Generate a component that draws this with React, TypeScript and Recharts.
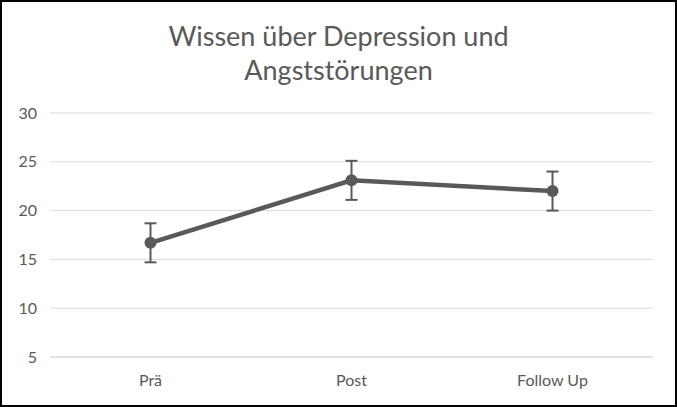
import { LineChart, Line, XAxis, YAxis, CartesianGrid, ErrorBar } from "recharts";

const categories = ["Prä", "Post", "Follow Up"];
const means = [16.7, 23.1, 22.0];
const errors = [2.0, 2.0, 2.0];
const yTicks = [5, 10, 15, 20, 25, 30];

const data = categories.map((c, i) => ({ name: c, value: means[i], err: errors[i] }));

const grey = "#595959";
const font = "Lato, 'Open Sans', sans-serif";

export default function App() {
  return (
    <div style={{ position: "absolute", left: 0, top: 0, width: 677, height: 407, background: "#fff" }}>
      <div
        style={{
          position: "absolute",
          left: 0,
          top: 19,
          width: 677,
          textAlign: "center",
          fontFamily: font,
          fontSize: 27,
          lineHeight: "34px",
          color: grey,
        }}
      >
        Wissen über Depression und
        <br />
        Angststörungen
      </div>
      <LineChart
        width={677}
        height={407}
        data={data}
        margin={{ top: 113, right: 24, left: 0, bottom: 0 }}
      >
        <CartesianGrid vertical={false} stroke="#d9d9d9" strokeWidth={1} />
        <XAxis
          dataKey="name"
          scale="band"
          axisLine={{ stroke: "#d9d9d9" }}
          tickLine={false}
          height={50}
          tickMargin={12}
          tick={{ fill: grey, fontSize: 16, fontFamily: font }}
        />
        <YAxis
          domain={[5, 30]}
          ticks={yTicks}
          axisLine={false}
          tickLine={false}
          width={50}
          tickMargin={7}
          tick={{ fill: grey, fontSize: 16, fontFamily: font }}
        />
        <Line
          dataKey="value"
          stroke={grey}
          strokeWidth={4.5}
          dot={{ r: 6, fill: grey, stroke: grey, strokeWidth: 0 }}
          isAnimationActive={false}
        >
          <ErrorBar dataKey="err" width={6} stroke={grey} strokeWidth={2} direction="y" />
        </Line>
      </LineChart>
      <div
        style={{
          position: "absolute",
          left: 0,
          top: 0,
          width: 677,
          height: 407,
          boxSizing: "border-box",
          border: "2px solid #000",
          pointerEvents: "none",
        }}
      />
    </div>
  );
}
